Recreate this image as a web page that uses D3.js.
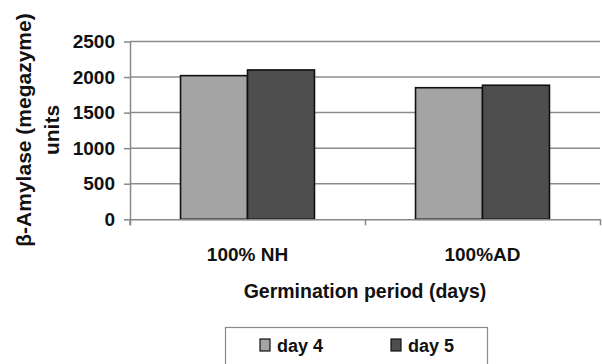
<!DOCTYPE html>
<html>
<head>
<meta charset="utf-8">
<script src="https://cdn.jsdelivr.net/npm/d3@7"></script>
<style>
  body { margin: 0; background: #fff; }
  svg { display: block; }
  text { font-family: "Liberation Sans", Arial, sans-serif; fill: #111; }
</style>
</head>
<body>
<div id="chart"></div>
<script>
// data
var categories = ["100% NH", "100%AD"];
var seriesNames = ["day 4", "day 5"];
var day4 = [2020, 1850];
var day5 = [2100, 1885];
var yTicks = [0, 500, 1000, 1500, 2000, 2500];

var colors = ["#a4a4a4", "#4e4e4e"];

var w = 602, h = 364;
var margin = { top: 41.5, right: 2, bottom: 144.7, left: 130 };

var svg = d3.select("#chart")
    .append("svg")
    .attr("width", w)
    .attr("height", h);

var x0 = d3.scaleBand()
    .domain(categories)
    .range([margin.left, w - margin.right])
    .paddingInner(0.43)
    .paddingOuter(0.215);

var x1 = d3.scaleBand()
    .domain(seriesNames)
    .range([0, x0.bandwidth()]);

var y = d3.scaleLinear()
    .domain([0, 2500])
    .range([h - margin.bottom, margin.top]);

// gridlines
svg.append("g")
    .selectAll("line")
    .data(yTicks.slice(1))
    .enter()
    .append("line")
    .attr("x1", margin.left)
    .attr("x2", w - margin.right)
    .attr("y1", function (d) { return y(d); })
    .attr("y2", function (d) { return y(d); })
    .attr("stroke", "#8c8c8c")
    .attr("stroke-width", 1.5);

// bars
var rows = categories.map(function (c, i) {
  return { cat: c, vals: [day4[i], day5[i]] };
});

var g = svg.selectAll(".grp")
    .data(rows)
    .enter().append("g")
    .attr("class", "grp")
    .attr("transform", function (d) { return "translate(" + x0(d.cat) + ",0)"; });

g.selectAll("rect")
    .data(function (d) {
      return d.vals.map(function (v, j) { return { s: seriesNames[j], v: v, j: j }; });
    })
    .enter().append("rect")
    .attr("x", function (d) { return x1(d.s); })
    .attr("y", function (d) { return y(d.v); })
    .attr("width", x1.bandwidth())
    .attr("height", function (d) { return y(0) - y(d.v); })
    .attr("fill", function (d) { return colors[d.j]; })
    .attr("stroke", "#111")
    .attr("stroke-width", 1.6);

// y axis
var gy = svg.append("g")
    .attr("transform", "translate(" + margin.left + ",0)")
    .call(d3.axisLeft(y).tickValues(yTicks).tickFormat(d3.format("d"))
      .tickSize(6).tickPadding(9).tickSizeOuter(0));

// x axis: ticks at band boundaries
var xb = d3.scaleLinear().domain([0, 2]).range([margin.left, w - margin.right]);
var gx = svg.append("g")
    .attr("transform", "translate(0," + y(0) + ")")
    .call(d3.axisBottom(xb).tickValues([0, 1, 2]).tickSize(6).tickSizeOuter(0).tickFormat(""));

svg.selectAll(".domain, .tick line")
    .attr("stroke", "#888")
    .attr("stroke-width", 1.5);

// extend y axis line below zero
svg.append("line")
    .attr("x1", margin.left).attr("x2", margin.left)
    .attr("y1", y(0)).attr("y2", y(0) + 6)
    .attr("stroke", "#888").attr("stroke-width", 1.5);

gy.selectAll("text")
    .style("font-family", "'Liberation Sans', Arial, sans-serif")
    .style("font-size", "19px")
    .style("font-weight", "bold")
    .attr("fill", "#111");

// category labels
svg.selectAll(".catlabel")
    .data(categories)
    .enter().append("text")
    .attr("class", "catlabel")
    .attr("x", function (d) { return x0(d) + x0.bandwidth() / 2; })
    .attr("y", 261)
    .attr("text-anchor", "middle")
    .style("font-size", "19px")
    .style("font-weight", "bold")
    .text(function (d) { return d; });

// axis titles
svg.append("text")
    .attr("x", (margin.left + w - margin.right) / 2)
    .attr("y", 298)
    .attr("text-anchor", "middle")
    .style("font-size", "19.5px")
    .style("font-weight", "bold")
    .text("Germination period (days)");

var yt = svg.append("text")
    .attr("transform", "translate(31,130) rotate(-90)")
    .attr("text-anchor", "middle")
    .style("font-size", "21px")
    .style("font-weight", "bold");
yt.append("tspan").attr("x", 0).attr("dy", 0).text("\u03b2-Amylase (megazyme)");
yt.append("tspan").attr("x", 0).attr("dy", 28).text("units");

// legend
var legend = svg.append("g");
legend.append("rect")
    .attr("x", 225.5).attr("y", 327.5)
    .attr("width", 262).attr("height", 60)
    .attr("fill", "none")
    .attr("stroke", "#8a8a8a")
    .attr("stroke-width", 1.2);

var legX = [260, 391];
var li = legend.selectAll(".li")
    .data(seriesNames)
    .enter().append("g")
    .attr("transform", function (d, i) { return "translate(" + legX[i] + ",339)"; });

li.append("rect")
    .attr("width", 10).attr("height", 12)
    .attr("fill", function (d, i) { return colors[i]; })
    .attr("stroke", "#111")
    .attr("stroke-width", 1.2);

li.append("text")
    .attr("x", 17)
    .attr("y", 13)
    .style("font-size", "18px")
    .style("font-weight", "bold")
    .text(function (d) { return d; });
</script>
</body>
</html>
